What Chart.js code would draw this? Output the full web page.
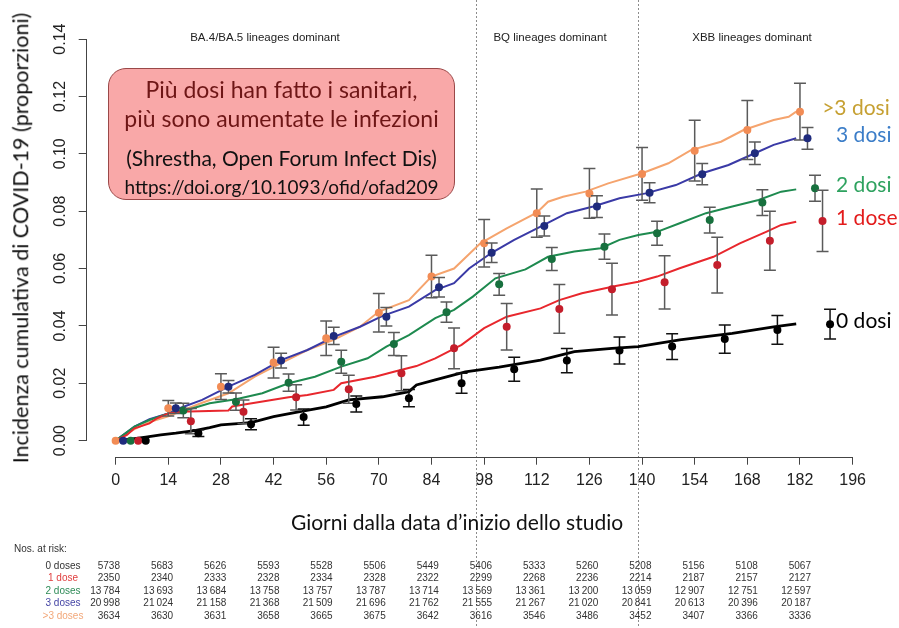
<!DOCTYPE html>
<html lang="it">
<head>
<meta charset="UTF-8" />
<title>Incidenza cumulativa di COVID-19 per numero di dosi</title>
<script src="https://cdn.jsdelivr.net/npm/chart.js@4.4.1/dist/chart.umd.min.js"></script>
<style>
    html, body { margin: 0; padding: 0; background: #fff; }
    #wrap { position: relative; width: 899px; height: 628px; overflow: hidden; }
    #chart { position: absolute; left: 0; top: 0; }
    .t { position: absolute; white-space: nowrap; line-height: 1; }
    .cal { font-family: Lato, 'Open Sans', sans-serif; }
    .r { font-family: 'Liberation Sans', Arial, sans-serif; }
    .rn { font-family: 'Liberation Sans Narrow', 'Liberation Sans', Arial, sans-serif; }
    #ytitle { left: 21px; top: 238px; font-size: 21.5px; color: #111;
              transform: translate(-50%, -50%) rotate(-90deg); }
    #xtitle { left: 457px; top: 521px; font-size: 21px; color: #111; transform: translate(-50%, -50%); }
    .era { top: 38px; font-size: 11.5px; color: #222; transform: translate(-50%, -50%); }
    #box { position: absolute; left: 108px; top: 68px; width: 345px; height: 130px;
           background: #f9a8a8; border: 1px solid #9a4848; border-radius: 18px; }
    #box .line { position: absolute; left: 0; right: 0; text-align: center; white-space: nowrap; }
    .risk { font-size: 10px; color: #333; }
</style>
</head>
<body>
<div id="wrap">
    <canvas id="chart" width="899" height="628"></canvas>

    <div id="ytitle" class="t cal">Incidenza cumulativa di COVID-19 (proporzioni)</div>
    <div id="xtitle" class="t cal">Giorni dalla data d’inizio dello studio</div>

    <div class="t r era" style="left:265px">BA.4/BA.5 lineages dominant</div>
    <div class="t r era" style="left:550px">BQ lineages dominant</div>
    <div class="t r era" style="left:752px">XBB lineages dominant</div>

    <div id="box" class="cal">
        <div class="line" style="top:7px;font-size:23px;line-height:26px;color:#6e1616">Più dosi han fatto i sanitari,</div>
        <div class="line" style="top:36px;font-size:23px;line-height:26px;color:#6e1616">più sono aumentate le infezioni</div>
        <div class="line" style="top:77px;font-size:21px;line-height:24px;color:#111">(Shrestha, Open Forum Infect Dis)</div>
        <div class="line" style="top:106px;font-size:19px;line-height:24px;color:#111">https://doi.org/10.1093/ofid/ofad209</div>
    </div>

    <div class="t rn risk" style="left:14px;top:544px">Nos. at risk:</div>
    <div id="table"></div>
</div>

<script>
// axes
const xTicks = [0, 14, 28, 42, 56, 70, 84, 98, 112, 126, 140, 154, 168, 182, 196];
const yTicks = [0, 0.02, 0.04, 0.06, 0.08, 0.10, 0.12, 0.14];
const periodBreaks = [95.9, 138.8];

// groups: 0, 1, 2, 3, >3 doses
const groupNames = ['0 dosi', '1 dose', '2 dosi', '3 dosi', '>3 dosi'];
const tableNames = ['0 doses', '1 dose', '2 doses', '3 doses', '>3 doses'];
const lineColors = ['#000000', '#e8272d', '#1e8a4f', '#3a3aa6', '#f5a46e'];
const pointColors = ['#000000', '#c41e2b', '#17703e', '#1f2b7d', '#f28c55'];
const labelColors = ['#000000', '#e31b1b', '#2ea25f', '#3b7dc8', '#c6a032'];
const tableColors = ['#333333', '#e04040', '#2e8b57', '#4545a5', '#f2a779'];

// cumulative incidence curves [day, proportion]
const curve0 = [[0,0],[4,0.0005],[8,0.0012],[12,0.002],[16,0.0026],[21,0.0035],[25,0.0045],[28,0.0055],[36,0.0063],[42,0.0084],[49,0.0101],[56,0.0118],[62,0.0142],[71,0.0153],[78,0.0171],[80,0.0194],[85,0.0212],[93,0.024],[102,0.0256],[113,0.0281],[122,0.031],[132,0.0322],[139,0.0328],[150,0.0351],[164,0.0374],[175,0.0397],[181,0.0407]];
const curve1 = [[0,0],[3,0.002],[5,0.0043],[9,0.006],[11,0.0078],[14,0.0095],[17,0.0101],[30,0.0105],[31,0.0119],[35,0.0128],[46,0.0151],[51,0.0159],[58,0.0177],[60,0.02],[69,0.0223],[74,0.024],[80,0.026],[85,0.0287],[92,0.0334],[98,0.0392],[104,0.0432],[113,0.0461],[118,0.049],[124,0.0514],[133,0.0539],[139,0.0554],[144,0.0572],[150,0.0601],[159,0.0641],[166,0.0688],[173,0.0728],[177,0.0752],[181,0.0763]];
const curve2 = [[0,0],[5,0.0049],[9,0.0072],[14,0.0095],[19,0.0107],[25,0.013],[32,0.0144],[39,0.0165],[46,0.02],[53,0.0223],[60,0.0258],[67,0.0287],[72,0.0328],[78,0.0368],[85,0.0427],[90,0.0456],[95,0.0502],[101,0.0566],[109,0.0597],[115,0.0641],[122,0.0659],[129,0.0671],[134,0.07],[139,0.0717],[144,0.0728],[150,0.0758],[157,0.0793],[164,0.0816],[171,0.0839],[177,0.0868],[181,0.0876]];
const curve3 = [[0,0],[5,0.0049],[9,0.0075],[14,0.0095],[17,0.0113],[23,0.0142],[30,0.0188],[37,0.0229],[44,0.0281],[51,0.0316],[58,0.0362],[65,0.0397],[71,0.0435],[78,0.0467],[85,0.0525],[90,0.0549],[94,0.06],[100,0.0655],[106,0.07],[113,0.0746],[120,0.0793],[127,0.0816],[134,0.0845],[141,0.0862],[149,0.0891],[156,0.0932],[163,0.0961],[170,0.1002],[175,0.1031],[181,0.1054]];
const curve4 = [[0,0],[5,0.004],[9,0.0065],[14,0.0085],[23,0.0132],[30,0.0165],[37,0.0223],[44,0.027],[51,0.0316],[58,0.0351],[65,0.0397],[70,0.045],[78,0.049],[84,0.0572],[90,0.06],[97,0.0688],[104,0.074],[112,0.0795],[115,0.0833],[119,0.085],[125,0.0868],[131,0.0897],[140,0.0932],[147,0.0967],[153,0.1013],[161,0.1042],[167,0.1083],[175,0.1118],[179,0.1129],[181,0.1147]];

// point estimates with 95% CI half-width, every 14 days, dodged per group
const estDays = [0, 14, 28, 42, 56, 70, 84, 98, 112, 126, 140, 154, 168, 182];
const dodgeDays = [8, 6, 4, 2, 0];
const est0 = [0, 0.0026, 0.0057, 0.0082, 0.0128, 0.0148, 0.020, 0.0249, 0.0279, 0.0314, 0.0328, 0.0354, 0.0386, 0.0406];
const err0 = [0, 0.0012, 0.0019, 0.0028, 0.0028, 0.003, 0.0035, 0.0042, 0.0042, 0.0047, 0.0045, 0.0049, 0.005, 0.0052];
const est1 = [0, 0.0068, 0.0101, 0.0151, 0.0179, 0.0235, 0.0322, 0.0397, 0.0459, 0.0528, 0.0552, 0.0612, 0.0697, 0.0766];
const err1 = [0, 0.0044, 0.0041, 0.0044, 0.0049, 0.0061, 0.0071, 0.0081, 0.0085, 0.009, 0.0093, 0.0097, 0.0103, 0.0107];
const est2 = [0, 0.0105, 0.0136, 0.0202, 0.0275, 0.0337, 0.0448, 0.0545, 0.0633, 0.0676, 0.0723, 0.0769, 0.083, 0.088];
const err2 = [0, 0.0025, 0.003, 0.003, 0.004, 0.004, 0.0035, 0.0038, 0.004, 0.0044, 0.0042, 0.0045, 0.0045, 0.0045];
const est3 = [0, 0.0113, 0.0188, 0.0279, 0.0365, 0.0432, 0.0535, 0.0655, 0.0748, 0.0816, 0.0864, 0.0929, 0.1002, 0.1054];
const err3 = [0, 0.0018, 0.0022, 0.0026, 0.003, 0.0032, 0.0034, 0.0034, 0.0035, 0.0038, 0.0035, 0.0037, 0.0039, 0.0038];
const est4 = [0, 0.0113, 0.0188, 0.0272, 0.0357, 0.0446, 0.0572, 0.0688, 0.0793, 0.0862, 0.093, 0.1011, 0.1083, 0.1147];
const err4 = [0, 0.0027, 0.0045, 0.0054, 0.006, 0.0067, 0.0074, 0.0083, 0.0084, 0.0087, 0.0092, 0.0106, 0.0103, 0.0099];

// numbers at risk
const risk0 = [5738, 5683, 5626, 5593, 5528, 5506, 5449, 5406, 5333, 5260, 5208, 5156, 5108, 5067];
const risk1 = [2350, 2340, 2333, 2328, 2334, 2328, 2322, 2299, 2268, 2236, 2214, 2187, 2157, 2127];
const risk2 = [13784, 13693, 13684, 13758, 13757, 13787, 13714, 13569, 13361, 13200, 13059, 12907, 12751, 12597];
const risk3 = [20998, 21024, 21158, 21368, 21509, 21696, 21762, 21555, 21267, 21020, 20841, 20613, 20396, 20187];
const risk4 = [3634, 3630, 3631, 3658, 3665, 3675, 3642, 3616, 3546, 3486, 3452, 3407, 3366, 3336];

const curves = [curve0, curve1, curve2, curve3, curve4];
const ests = [est0, est1, est2, est3, est4];
const errs = [err0, err1, err2, err3, err4];
const risks = [risk0, risk1, risk2, risk3, risk4];

// table of numbers at risk (own panel, slightly wider spacing than the axis)
function fmt(n) {
    const s = String(n);
    return n >= 10000 ? s.slice(0, -3) + '\u2009' + s.slice(-3) : s;
}
const table = document.getElementById('table');
risks.forEach((row, g) => {
    const top = 561 + g * 12.4;
    let html = `<div class="t rn risk" style="left:63px;top:${top}px;transform:translateX(-50%);color:${tableColors[g]}">${tableNames[g]}</div>`;
    row.forEach((n, k) => {
        const right = 899 - (120 + k * 53.15);
        html += `<div class="t rn risk" style="right:${right}px;top:${top}px">${fmt(n)}</div>`;
    });
    table.insertAdjacentHTML('beforeend', html);
});

// point datasets first so they are drawn on top of the curves
const pointSets = ests.map((est, g) => ({
    label: groupNames[g] + ' stima',
    data: estDays.map((d, i) => ({ x: d + dodgeDays[g], y: est[i] })),
    showLine: false,
    pointRadius: 4,
    pointBorderWidth: 0,
    pointBackgroundColor: pointColors[g],
    borderColor: pointColors[g]
}));
const curveSets = curves.map((c, g) => ({
    label: groupNames[g],
    data: c.map(p => ({ x: p[0], y: p[1] })),
    borderColor: lineColors[g],
    borderWidth: g === 0 ? 2.8 : 2,
    pointRadius: 0,
    tension: 0,
    fill: false
}));

const decor = {
    id: 'decor',
    beforeDatasetsDraw(chart) {
        const { ctx, scales: { x, y }, chartArea } = chart;
        ctx.save();
        // era boundaries
        ctx.strokeStyle = '#8c8c8c';
        ctx.lineWidth = 1;
        ctx.setLineDash([2, 2]);
        periodBreaks.forEach(d => {
            const px = Math.round(x.getPixelForValue(d)) + 0.5;
            ctx.beginPath();
            ctx.moveTo(px, 0);
            ctx.lineTo(px, chart.height);
            ctx.stroke();
        });
        ctx.setLineDash([]);
        // R-style detached axis lines
        ctx.strokeStyle = '#444';
        const by = Math.round(chartArea.bottom) + 0.5;
        ctx.beginPath();
        ctx.moveTo(x.getPixelForValue(xTicks[0]), by);
        ctx.lineTo(x.getPixelForValue(xTicks[xTicks.length - 1]), by);
        const lx = Math.round(chartArea.left) - 0.5;
        ctx.moveTo(lx, y.getPixelForValue(yTicks[0]));
        ctx.lineTo(lx, y.getPixelForValue(yTicks[yTicks.length - 1]));
        ctx.stroke();
        ctx.restore();
    },
    beforeDatasetDraw(chart, args) {
        const g = args.index;
        if (g > 4) return;
        const { ctx, scales: { x, y } } = chart;
        ctx.save();
        ctx.lineWidth = 1.5;
        ctx.strokeStyle = g === 0 ? '#111' : '#5a5a5a';
        estDays.forEach((d, i) => {
            if (!errs[g][i]) return;
            const px = x.getPixelForValue(d + dodgeDays[g]);
            const lo = y.getPixelForValue(ests[g][i] - errs[g][i]);
            const hi = y.getPixelForValue(ests[g][i] + errs[g][i]);
            ctx.beginPath();
            ctx.moveTo(px, lo); ctx.lineTo(px, hi);
            ctx.moveTo(px - 6, lo); ctx.lineTo(px + 6, lo);
            ctx.moveTo(px - 6, hi); ctx.lineTo(px + 6, hi);
            ctx.stroke();
        });
        ctx.restore();
    },
    afterDatasetsDraw(chart) {
        const { ctx, scales: { x, y } } = chart;
        ctx.save();
        ctx.font = '21px Lato, "Open Sans", sans-serif';
        ctx.textBaseline = 'middle';
        ctx.textAlign = 'left';
        ests.forEach((est, g) => {
            const last = est[est.length - 1];
            const px = x.getPixelForValue(g === 4 ? 187.9 : 191.6);
            ctx.fillStyle = labelColors[g];
            ctx.fillText(groupNames[g], px, y.getPixelForValue(last) - 3);
        });
        ctx.restore();
    }
};

const ctx = document.getElementById('chart').getContext('2d');
const chart = new Chart(ctx, {
    type: 'line',
    data: { datasets: pointSets.concat(curveSets) },
    options: {
        responsive: false,
        animation: false,
        layout: { padding: { top: 23, right: 40, left: 0, bottom: 0 } },
        plugins: { legend: { display: false }, tooltip: { enabled: false } },
        scales: {
            x: {
                type: 'linear',
                min: -7.7,
                max: 197.7,
                afterBuildTicks: s => { s.ticks = xTicks.map(v => ({ value: v })); },
                afterFit: s => { s.height = 628 - 456.7; },
                border: { display: false },
                grid: { drawOnChartArea: false, tickLength: 8, color: '#444' },
                ticks: {
                    autoSkip: false, maxRotation: 0, padding: 6, color: '#222',
                    font: { family: "'Liberation Sans Narrow', 'Liberation Sans', sans-serif", size: 16 }
                }
            },
            y: {
                min: -0.0056,
                max: 0.1456,
                afterBuildTicks: s => { s.ticks = yTicks.map(v => ({ value: v })); },
                afterFit: s => { s.width = 86.7; },
                border: { display: false },
                grid: { drawOnChartArea: false, tickLength: 8, color: '#444' },
                ticks: {
                    minRotation: 90, maxRotation: 90, crossAlign: 'center', padding: 3, color: '#222',
                    callback: v => v.toFixed(2),
                    font: { family: "'Liberation Sans Narrow', 'Liberation Sans', sans-serif", size: 16 }
                }
            }
        }
    },
    plugins: [decor]
});
</script>
</body>
</html>
